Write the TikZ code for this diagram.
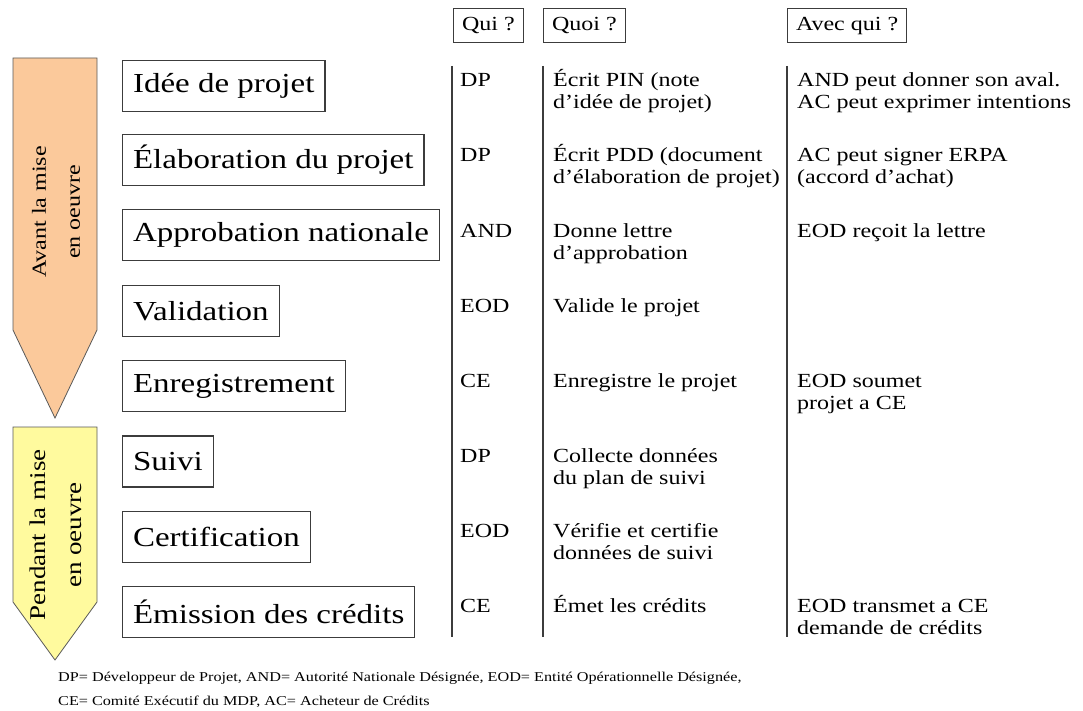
\documentclass[tikz,border=0pt]{standalone}
\usepackage{fontspec}
\setmainfont[FakeStretch=1.2]{Liberation Serif}
\definecolor{phaseorange}{RGB}{251,201,155}
\definecolor{phaseyellow}{RGB}{255,250,158}
\definecolor{linegray}{RGB}{60,60,60}
\tikzset{
  stagebox/.style={draw=linegray, line width=1.1pt, fill=white, anchor=west,
    minimum height=51pt, inner xsep=10.5pt, inner ysep=0pt,
    font=\fontsize{27.5}{30}\selectfont},
  headbox/.style={draw=linegray, line width=1pt, anchor=west,
    minimum height=34pt, inner xsep=8.5pt, inner ysep=0pt,
    font=\fontsize{20}{22}\selectfont},
  cell/.style={anchor=base west, align=left, inner sep=0pt,
    font=\fontsize{20}{22}\selectfont},
  colsep/.style={draw=linegray, line width=1.1pt},
  phase/.style={draw=black!65, line width=0.8pt},
  phaselbl/.style={rotate=90, align=center, inner sep=0pt},
  legend/.style={anchor=base west, align=left, inner sep=0pt,
    font=\fontsize{13.5}{24}\selectfont}
}
\begin{document}
\begin{tikzpicture}[x=1pt,y=-1pt]
\useasboundingbox (0,0) rectangle (1083,711);

% phase arrows
\draw[phase, fill=phaseorange] (13,58) -- (97,58) -- (97,330) -- (55,418) -- (13,330) -- cycle;
\draw[phase, fill=phaseyellow] (13,427) -- (97,427) -- (97,602) -- (55,660) -- (13,602) -- cycle;
\node[phaselbl, font=\fontsize{20}{34}\selectfont] (avant) at (56,212) {Avant la mise\\en oeuvre};
\node[phaselbl, font=\fontsize{22.5}{36}\selectfont] (pendant) at (56,535) {Pendant la mise\\en oeuvre};

% stage boxes
\node[stagebox] (s1) at (122,86) {Idée de projet};
\node[stagebox] (s2) at (122,160) {Élaboration du projet};
\node[stagebox] (s3) at (122,235) {Approbation nationale};
\node[stagebox] (s4) at (122,311) {Validation};
\node[stagebox] (s5) at (122,386) {Enregistrement};
\node[stagebox] (s6) at (122,461.5) {Suivi};
\node[stagebox] (s7) at (122,537) {Certification};
\node[stagebox] (s8) at (122,612) {Émission des crédits};

% headers
\node[headbox] (hqui) at (453,26) {Qui ?};
\node[headbox] (hquoi) at (543,26) {Quoi ?};
\node[headbox] (havec) at (787,26) {Avec qui ?};

% column separators
\coordinate (qtop) at (452,66);  \coordinate (qbot) at (452,637);
\coordinate (wtop) at (543,66);  \coordinate (wbot) at (543,637);
\coordinate (atop) at (787,66);  \coordinate (abot) at (787,637);
\draw[colsep] (qtop) -- (qbot);
\draw[colsep] (wtop) -- (wbot);
\draw[colsep] (atop) -- (abot);

% Qui column (baselines 87 + 75 i)
\node[cell] (q1) at (460,87) {DP};
\node[cell] (q2) at (460,162) {DP};
\node[cell] (q3) at (460,237) {AND};
\node[cell] (q4) at (460,312) {EOD};
\node[cell] (q5) at (460,387) {CE};
\node[cell] (q6) at (460,462) {DP};
\node[cell] (q7) at (460,537) {EOD};
\node[cell] (q8) at (460,612) {CE};

% Quoi column (two-line cells are placed by their last baseline)
\node[cell] (w1) at (553,109) {Écrit PIN (note\\d’idée de projet)};
\node[cell] (w2) at (553,184) {Écrit PDD (document\\d’élaboration de projet)};
\node[cell] (w3) at (553,259) {Donne lettre\\d’approbation};
\node[cell] (w4) at (553,312) {Valide le projet};
\node[cell] (w5) at (553,387) {Enregistre le projet};
\node[cell] (w6) at (553,484) {Collecte données\\du plan de suivi};
\node[cell] (w7) at (553,559) {Vérifie et certifie\\données de suivi};
\node[cell] (w8) at (553,612) {Émet les crédits};

% Avec qui column
\node[cell] (a1) at (797,109) {AND peut donner son aval.\\AC peut exprimer intentions};
\node[cell] (a2) at (797,184) {AC peut signer ERPA\\(accord d’achat)};
\node[cell] (a3) at (797,237) {EOD reçoit la lettre};
\node[cell] (a5) at (797,409) {EOD soumet\\projet a CE};
\node[cell] (a8) at (797,634) {EOD transmet a CE\\demande de crédits};

% legend
\node[legend] (leg) at (58,705) {DP= Développeur de Projet, AND= Autorité Nationale Désignée, EOD= Entité Opérationnelle Désignée,\\CE= Comité Exécutif du MDP, AC= Acheteur de Crédits};
\end{tikzpicture}
\end{document}
